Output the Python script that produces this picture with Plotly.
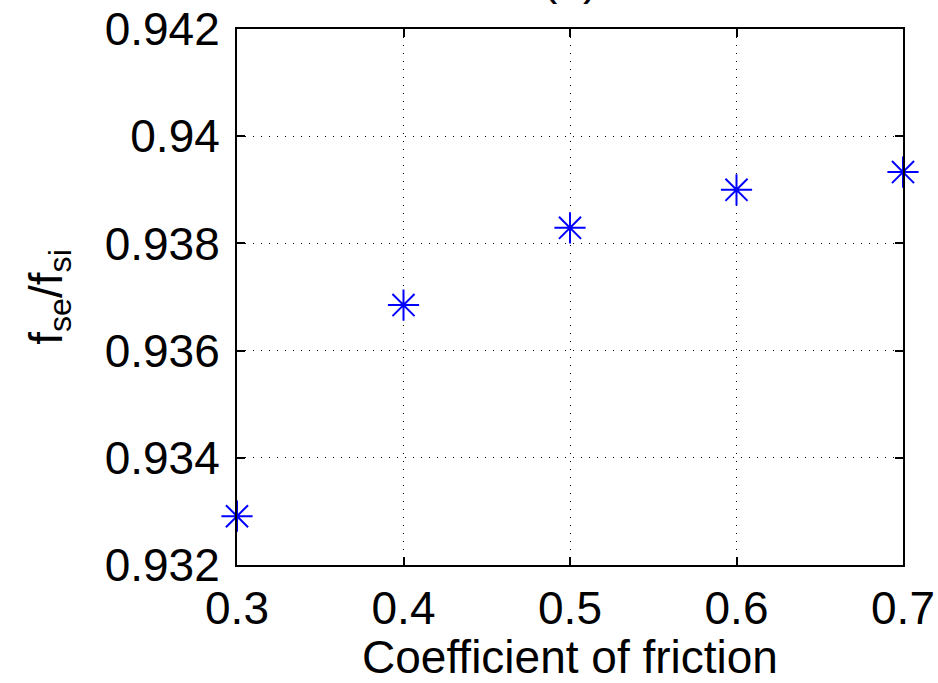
import plotly.graph_objects as go

friction = [0.3, 0.4, 0.5, 0.6, 0.7]
ratio = [0.93291, 0.93685, 0.93829, 0.93900, 0.93933]
xticks = [0.3, 0.4, 0.5, 0.6, 0.7]
yticks = [0.932, 0.934, 0.936, 0.938, 0.940, 0.942]
ytick_text = ["0.932", "0.934", "0.936", "0.938", "0.94", "0.942"]

FONT = "Liberation Sans, Arial, sans-serif"

fig = go.Figure()
fig.add_trace(go.Scatter(
    x=friction, y=ratio, mode="markers",
    marker=dict(symbol="asterisk-open", size=26, color="#0000ff",
                line=dict(color="#0000ff", width=2)),
    cliponaxis=False, showlegend=False,
))

axis_common = dict(
    showline=True, linecolor="black", linewidth=2, mirror="ticks",
    ticks="inside", ticklen=8, tickwidth=1.5, tickcolor="black",
    showgrid=True, gridcolor="black", gridwidth=1, griddash="1px,7px",
    zeroline=False, automargin=False,
    tickfont=dict(family=FONT, size=46, color="black"),
)

fig.update_xaxes(
    range=[0.3, 0.7], tickvals=xticks, ticktext=[f"{v:.1f}" for v in xticks],
    title=dict(text="Coefficient of friction", font=dict(family=FONT, size=46, color="black"), standoff=4),
    ticklabelstandoff=2,
    **axis_common,
)
fig.update_yaxes(
    range=[0.932, 0.942], tickvals=yticks, ticktext=ytick_text,
    title=dict(text="f<sub>se</sub>/f<sub>si</sub>", font=dict(family=FONT, size=46, color="black"), standoff=28),
    ticklabelstandoff=6,
    **axis_common,
)

fig.add_annotation(text="(b)", xref="paper", yref="paper", x=0.5, y=1.042,
                   xanchor="center", yanchor="bottom", showarrow=False,
                   font=dict(family=FONT, size=46, color="black"))

fig.update_layout(
    width=938, height=683,
    margin=dict(l=237, r=35, t=29, b=118),
    paper_bgcolor="white", plot_bgcolor="white",
    font=dict(family=FONT, color="black"),
)

fig.write_html("out.html")
